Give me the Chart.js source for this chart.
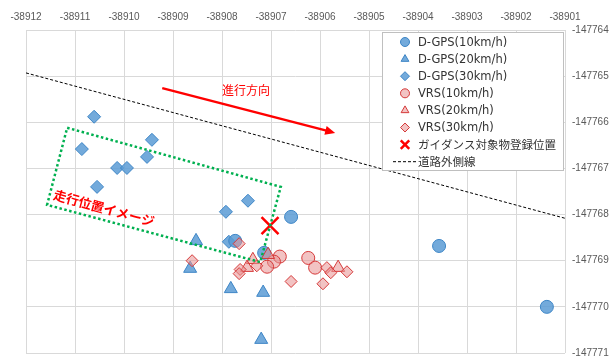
<!DOCTYPE html>
<html>
<head>
<meta charset="utf-8">
<script src="https://cdn.jsdelivr.net/npm/chart.js@4.4.1/dist/chart.umd.min.js"></script>
<style>
  html, body { margin: 0; padding: 0; background: #fff; }
  #wrap { width: 615px; height: 356px; }
</style>
</head>
<body>
<div id="wrap"><canvas id="chart" width="615" height="356"></canvas></div>
<script>
// axis ranges
const xMin = -38912, xMax = -38901;
const yMin = -147771, yMax = -147764;

const seriesLabels = [
  'D-GPS(10km/h)', 'D-GPS(20km/h)', 'D-GPS(30km/h)',
  'VRS(10km/h)', 'VRS(20km/h)', 'VRS(30km/h)',
  'ガイダンス対象物登録位置', '道路外側線'
];

// D-GPS
const dgps10X = [-38906.59, -38907.73, -38907.14, -38903.57, -38901.37];
const dgps10Y = [-147768.05, -147768.57, -147768.83, -147768.68, -147770.00];
const dgps20X = [-38908.53, -38908.65, -38907.82, -38907.16, -38907.20];
const dgps20Y = [-147768.57, -147769.17, -147769.61, -147769.69, -147770.71];
const dgps30X = [-38910.61, -38910.86, -38909.43, -38909.53, -38910.14, -38909.94, -38910.55, -38907.47, -38907.92, -38907.86];
const dgps30Y = [-147765.88, -147766.58, -147766.38, -147766.75, -147766.99, -147766.99, -147767.40, -147767.70, -147767.94, -147768.59];

// VRS
const vrs10X = [-38906.82, -38906.94, -38907.08, -38906.24, -38906.10];
const vrs10Y = [-147768.91, -147769.02, -147769.13, -147768.94, -147769.15];
const vrs20X = [-38907.37, -38907.06, -38907.49, -38905.63];
const vrs20Y = [-147768.98, -147768.87, -147769.15, -147769.15];
const vrs30X = [-38907.65, -38908.61, -38907.63, -38907.65, -38907.29, -38906.59, -38905.86, -38905.78, -38905.45, -38905.94];
const vrs30Y = [-147768.63, -147769.00, -147769.19, -147769.28, -147769.11, -147769.45, -147769.15, -147769.26, -147769.24, -147769.50];

// guidance object position and road edge
const guideX = [-38907.02];
const guideY = [-147768.24];
const roadX = [-38912, -38901];
const roadY = [-147764.93, -147768.08];

// annotation anchors (data units)
const arrowFrom = [-38909.22, -147765.26];
const arrowTo = [-38905.69, -147766.23];
const arrowLabelAt = [-38907.51, -147765.30];
const boxCorners = [
  [-38911.16, -147766.12], [-38906.80, -147767.40],
  [-38907.22, -147769.03], [-38911.57, -147767.79]
];
const boxLabelAt = [-38910.41, -147767.86];

function toPoints(xs, ys) {
  return xs.map(function (x, i) { return { x: x, y: ys[i] }; });
}

const blueFill = 'rgba(91, 155, 213, 0.85)';
const blueLine = '#3d85c6';
const redFill = 'rgba(232, 145, 145, 0.55)';
const redLine = '#d63a3a';
const jpFont = "'DejaVu Sans', 'Noto Sans CJK JP', sans-serif";

const annotations = {
  id: 'annotations',
  afterDatasetsDraw: function (chart) {
    const ctx = chart.ctx;
    const xs = chart.scales.x, ys = chart.scales.y;
    const px = function (p) { return [xs.getPixelForValue(p[0]), ys.getPixelForValue(p[1])]; };
    ctx.save();

    // green dotted box
    const c = boxCorners.map(px);
    ctx.strokeStyle = '#00b050';
    ctx.lineWidth = 2.5;
    ctx.setLineDash([2.5, 2.5]);
    ctx.beginPath();
    ctx.moveTo(c[0][0], c[0][1]);
    for (let i = 1; i < c.length; i++) ctx.lineTo(c[i][0], c[i][1]);
    ctx.closePath();
    ctx.stroke();
    ctx.setLineDash([]);

    // box label
    const ang = Math.atan2(c[1][1] - c[0][1], c[1][0] - c[0][0]);
    const bl = px(boxLabelAt);
    ctx.translate(bl[0], bl[1]);
    ctx.rotate(ang);
    ctx.fillStyle = '#ff0000';
    ctx.font = "bold 13px 'Noto Sans CJK JP', sans-serif";
    ctx.textAlign = 'center';
    ctx.textBaseline = 'middle';
    ctx.fillText('走行位置イメージ', 0, 0);
    ctx.setTransform(1, 0, 0, 1, 0, 0);

    // direction arrow
    const a0 = px(arrowFrom), a1 = px(arrowTo);
    const dir = Math.atan2(a1[1] - a0[1], a1[0] - a0[0]);
    ctx.strokeStyle = '#ff0000';
    ctx.fillStyle = '#ff0000';
    ctx.lineWidth = 2.5;
    ctx.beginPath();
    ctx.moveTo(a0[0], a0[1]);
    ctx.lineTo(a1[0] - 7 * Math.cos(dir), a1[1] - 7 * Math.sin(dir));
    ctx.stroke();
    ctx.beginPath();
    ctx.moveTo(a1[0], a1[1]);
    ctx.lineTo(a1[0] - 10 * Math.cos(dir) + 4.5 * Math.sin(dir), a1[1] - 10 * Math.sin(dir) - 4.5 * Math.cos(dir));
    ctx.lineTo(a1[0] - 10 * Math.cos(dir) - 4.5 * Math.sin(dir), a1[1] - 10 * Math.sin(dir) + 4.5 * Math.cos(dir));
    ctx.closePath();
    ctx.fill();

    const al = px(arrowLabelAt);
    ctx.font = "12px 'Noto Sans CJK JP', sans-serif";
    ctx.textAlign = 'center';
    ctx.textBaseline = 'middle';
    ctx.fillText('進行方向', al[0], al[1]);
    ctx.restore();
  },
  afterDraw: function (chart) {
    // legend box inside the plot, top right
    const ctx = chart.ctx;
    const area = chart.chartArea;
    const left = 382, top = area.top + 2, right = area.right - 1, bottom = 171;
    ctx.save();
    ctx.fillStyle = '#ffffff';
    ctx.fillRect(left, top, right - left, bottom - top);
    ctx.strokeStyle = '#bfbfbf';
    ctx.lineWidth = 1;
    ctx.strokeRect(left + 0.5, top + 0.5, right - left - 1, bottom - top - 1);

    ctx.font = '11.5px ' + jpFont;
    ctx.textAlign = 'left';
    ctx.textBaseline = 'middle';
    chart.data.datasets.forEach(function (ds, i) {
      const y = top + 10 + i * 17.1;
      if (ds.showLine) {
        ctx.strokeStyle = ds.borderColor;
        ctx.lineWidth = 1;
        ctx.setLineDash([3, 2]);
        ctx.beginPath();
        ctx.moveTo(393, y);
        ctx.lineTo(417, y);
        ctx.stroke();
        ctx.setLineDash([]);
      } else {
        ctx.fillStyle = ds.backgroundColor;
        ctx.strokeStyle = ds.borderColor;
        ctx.lineWidth = ds.pointStyle === 'crossRot' ? 2.5 : 1;
        Chart.helpers.drawPoint(ctx, {
          pointStyle: ds.pointStyle,
          radius: ds.pointStyle === 'crossRot' ? 6 : 4.5,
          borderWidth: ctx.lineWidth,
          rotation: 0
        }, 405, y);
      }
      ctx.fillStyle = '#333333';
      ctx.fillText(ds.label, 418, y + 1);
    });
    ctx.restore();
  }
};

// fixed axis sizes so the plot area matches the original layout
function fitTop(scale) {
  scale.height = 30;
  scale.paddingLeft = 0;
  scale.paddingRight = 0;
}
function fitRight(scale) {
  scale.width = 50;
  scale.paddingTop = 0;
  scale.paddingBottom = 0;
}

new Chart(document.getElementById('chart'), {
  type: 'scatter',
  data: {
    datasets: [
      { label: seriesLabels[0], data: toPoints(dgps10X, dgps10Y), pointStyle: 'circle', pointRadius: 6.5,
        backgroundColor: blueFill, borderColor: blueLine, borderWidth: 1, order: 6 },
      { label: seriesLabels[1], data: toPoints(dgps20X, dgps20Y), pointStyle: 'triangle', pointRadius: 7.5,
        backgroundColor: blueFill, borderColor: blueLine, borderWidth: 1, order: 5 },
      { label: seriesLabels[2], data: toPoints(dgps30X, dgps30Y), pointStyle: 'rectRot', pointRadius: 6.5,
        backgroundColor: blueFill, borderColor: blueLine, borderWidth: 1, order: 7 },
      { label: seriesLabels[3], data: toPoints(vrs10X, vrs10Y), pointStyle: 'circle', pointRadius: 6.5,
        backgroundColor: redFill, borderColor: redLine, borderWidth: 1, order: 3 },
      { label: seriesLabels[4], data: toPoints(vrs20X, vrs20Y), pointStyle: 'triangle', pointRadius: 7.5,
        backgroundColor: redFill, borderColor: redLine, borderWidth: 1, order: 2 },
      { label: seriesLabels[5], data: toPoints(vrs30X, vrs30Y), pointStyle: 'rectRot', pointRadius: 6,
        backgroundColor: redFill, borderColor: redLine, borderWidth: 1, order: 1 },
      { label: seriesLabels[6], data: toPoints(guideX, guideY), pointStyle: 'crossRot', pointRadius: 12,
        backgroundColor: '#ff0000', borderColor: '#ff0000', borderWidth: 2.5, order: 0 },
      { label: seriesLabels[7], data: toPoints(roadX, roadY), showLine: true, pointRadius: 0,
        borderColor: '#000000', backgroundColor: '#000000', borderWidth: 1, borderDash: [3, 2], order: 8 }
    ]
  },
  options: {
    responsive: false,
    animation: false,
    layout: { autoPadding: false, padding: { left: 26, right: 0, top: 0, bottom: 3 } },
    plugins: {
      legend: { display: false },
      tooltip: { enabled: false }
    },
    scales: {
      x: {
        type: 'linear',
        position: 'top',
        min: xMin,
        max: xMax,
        afterFit: fitTop,
        ticks: {
          stepSize: 1,
          padding: 7,
          color: '#595959',
          font: { family: "'Liberation Sans', Arial, sans-serif", size: 10 },
          callback: function (v) { return String(v); }
        },
        grid: { color: '#d9d9d9', drawTicks: false },
        border: { display: false }
      },
      y: {
        type: 'linear',
        position: 'right',
        min: yMin,
        max: yMax,
        afterFit: fitRight,
        ticks: {
          stepSize: 1,
          padding: 7,
          color: '#595959',
          font: { family: "'Liberation Sans', Arial, sans-serif", size: 10 },
          callback: function (v) { return String(v); }
        },
        grid: { color: '#d9d9d9', drawTicks: false },
        border: { display: false }
      }
    }
  },
  plugins: [annotations]
});
</script>
</body>
</html>
